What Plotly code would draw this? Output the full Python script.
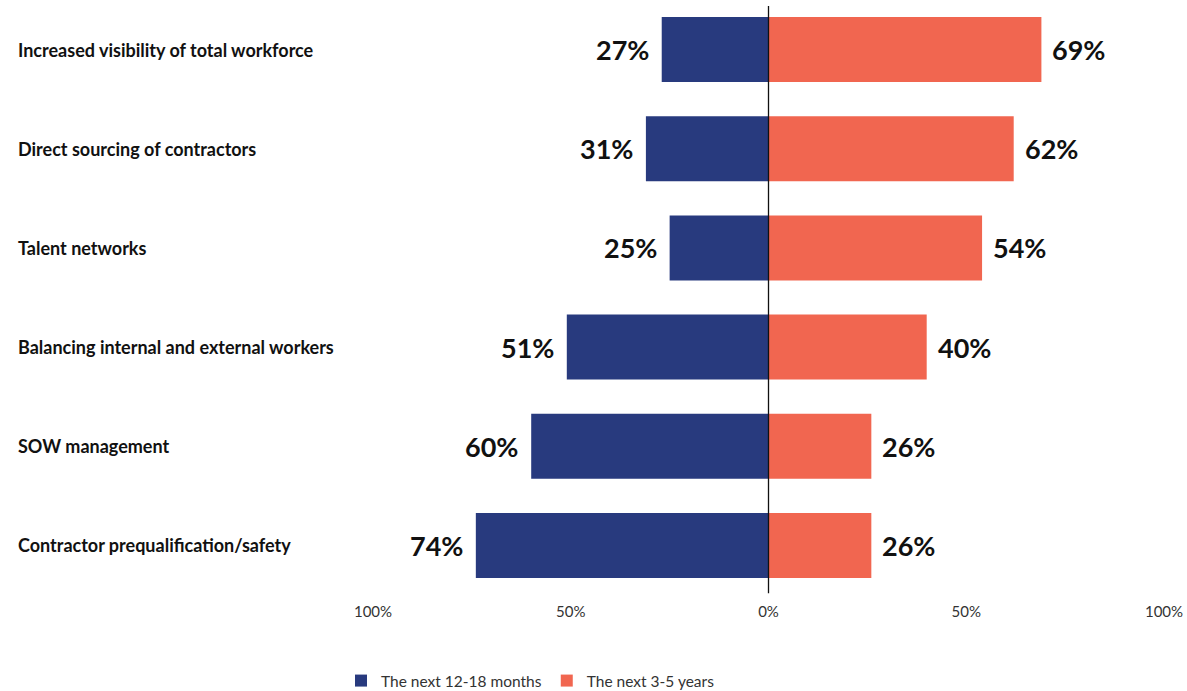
import plotly.graph_objects as go

categories = [
    "Increased visibility of total workforce",
    "Direct sourcing of contractors",
    "Talent networks",
    "Balancing internal and external workers",
    "SOW management",
    "Contractor prequalification/safety",
]
near_term = [27, 31, 25, 51, 60, 74]
long_term = [69, 62, 54, 40, 26, 26]
series_names = ["The next 12-18 months", "The next 3-5 years"]
tick_vals = [-100, -50, 0, 50, 100]
tick_text = ["100%", "50%", "0%", "50%", "100%"]

NAVY = "#283A7E"
CORAL = "#F16650"
FONT = "Lato, 'Open Sans', sans-serif"

PLOT_H = 595  # plot area height in px

fig = go.Figure()
fig.add_trace(go.Bar(
    y=categories, x=[-v for v in near_term], orientation="h",
    name=series_names[0], marker=dict(color=NAVY, line=dict(width=0)),
    hoverinfo="skip",
))
fig.add_trace(go.Bar(
    y=categories, x=long_term, orientation="h",
    name=series_names[1], marker=dict(color=CORAL, line=dict(width=0)),
    hoverinfo="skip",
))

annotations = []
for c, a, b in zip(categories, near_term, long_term):
    annotations.append(dict(x=-a, y=c, xref="x", yref="y", text=f"{a}%",
                            showarrow=False, xanchor="right", xshift=-11,
                            font=dict(family=FONT, size=27, color="#111111", weight="bold")))
    annotations.append(dict(x=b, y=c, xref="x", yref="y", text=f"{b}%",
                            showarrow=False, xanchor="left", xshift=9,
                            font=dict(family=FONT, size=27, color="#111111", weight="bold")))
    annotations.append(dict(x=(16 - 373) / 791, y=c, xref="paper", yref="y", text=c,
                            showarrow=False, xanchor="left",
                            font=dict(family=FONT, size=18, color="#111111", weight="bold")))

fig.update_layout(
    width=1187, height=691,
    margin=dict(l=373, r=23, t=0, b=691 - PLOT_H, autoexpand=False),
    plot_bgcolor="white", paper_bgcolor="white",
    barmode="overlay", bargap=0.345,
    font=dict(family=FONT, size=15, color="#333333"),
    xaxis=dict(range=[-100, 100], tickvals=tick_vals, ticktext=tick_text,
               showgrid=False, zeroline=False, showline=False, ticks="",
               ticklabelstandoff=6,
               tickfont=dict(size=15, color="#333333"), fixedrange=True),
    yaxis=dict(categoryorder="array", categoryarray=categories, autorange="reversed",
               showticklabels=False, showgrid=False, zeroline=False, showline=False,
               fixedrange=True),
    legend=dict(orientation="h", x=(341 - 373) / 791, xanchor="left",
                y=(PLOT_H - 681) / PLOT_H, yanchor="middle",
                font=dict(family=FONT, size=15.5, color="#333333"),
                traceorder="normal"),
    annotations=annotations,
    shapes=[dict(type="line", xref="x", yref="paper", x0=0, x1=0,
                 y0=0.003, y1=0.99, line=dict(color="#111111", width=1.3))],
)

fig.write_html("out.html")
